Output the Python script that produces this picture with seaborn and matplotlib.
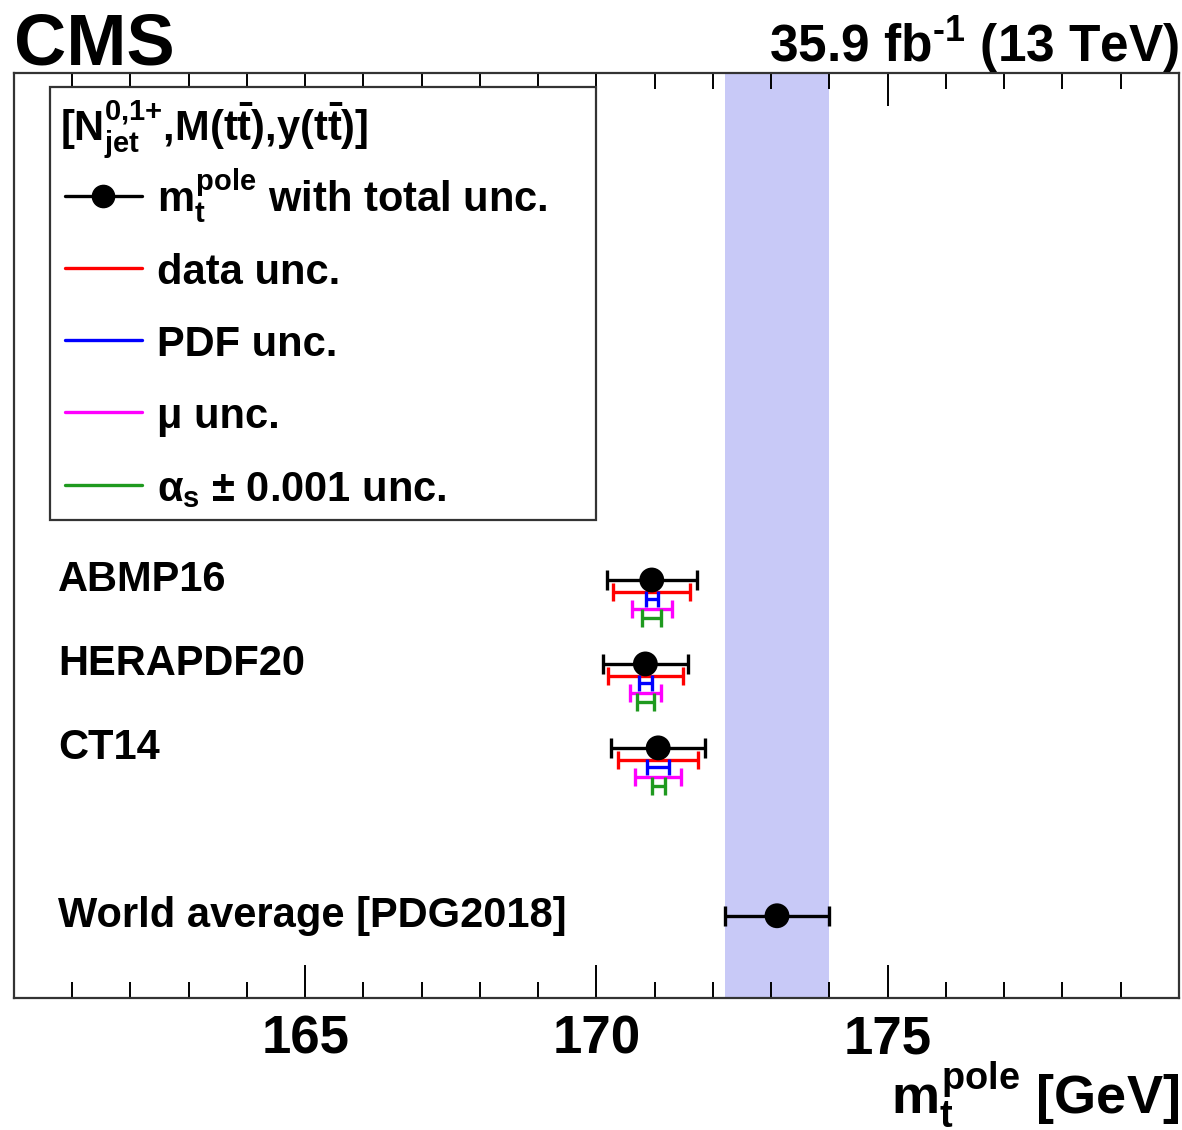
import numpy as np
import pandas as pd
import seaborn as sns
import matplotlib.pyplot as plt
from matplotlib.patches import Rectangle
from matplotlib.ticker import MultipleLocator, FixedLocator

# Extracted values (GeV)
pdf_sets = ['ABMP16', 'HERAPDF20', 'CT14']
mt_pole = [170.95, 170.84, 171.06]
tot_unc = [0.77, 0.73, 0.81]
data_unc = [0.66, 0.65, 0.69]
pdf_unc = [0.10, 0.11, 0.19]
mu_unc = [0.34, 0.27, 0.40]
alphas_unc = [0.16, 0.15, 0.11]

wa_label = 'World average [PDG2018]'
wa_value = 173.1
wa_unc = 0.9

row_pos = [0, 1, 2]
wa_pos = 4

df = pd.DataFrame({'pdf': pdf_sets, 'mt': mt_pole, 'row': row_pos})

sns.set_theme(style="ticks")
plt.rcParams['font.family'] = ['Liberation Sans', 'DejaVu Sans']
plt.rcParams['font.weight'] = 'bold'
plt.rcParams['text.color'] = 'black'
plt.rcParams['axes.labelcolor'] = 'black'
plt.rcParams['xtick.color'] = 'black'
plt.rcParams['mathtext.fontset'] = 'custom'
plt.rcParams['mathtext.rm'] = 'Liberation Sans:bold'
plt.rcParams['mathtext.it'] = 'Liberation Sans:bold'
plt.rcParams['mathtext.bf'] = 'Liberation Sans:bold'
plt.rcParams['mathtext.sf'] = 'Liberation Sans:bold'

fig = plt.figure(figsize=(11.82, 11.3), dpi=100)
ax = fig.add_axes([0.0118, 0.1168, 0.9856, 0.8186])

# world average band
ax.axvspan(wa_value - wa_unc, wa_value + wa_unc, color='#c8c9f7', lw=0, zorder=0)

# uncertainty components
green = '#1f9a1f'
components = [(data_unc, 'red', 0.14, 6.5),
              (pdf_unc, 'blue', 0.23, 5.5),
              (mu_unc, 'magenta', 0.35, 6.8),
              (alphas_unc, green, 0.45, 6.5)]
for unc, col, off, cs in components:
    ax.errorbar(mt_pole, np.array(row_pos) + off, xerr=unc, fmt='none',
                ecolor=col, elinewidth=2.4, capsize=cs, capthick=2.4, zorder=2)

ax.errorbar(mt_pole, row_pos, xerr=tot_unc, fmt='none', ecolor='black',
            elinewidth=2.4, capsize=7.5, capthick=2.4, zorder=3)
ax.errorbar([wa_value], [wa_pos], xerr=[wa_unc], fmt='none', ecolor='black',
            elinewidth=2.4, capsize=7.5, capthick=2.4, zorder=3)

sns.scatterplot(data=df, x='mt', y='row', color='black', s=320,
                edgecolor='none', ax=ax, zorder=4, legend=False)
sns.scatterplot(x=[wa_value], y=[wa_pos], color='black', s=320,
                edgecolor='none', ax=ax, zorder=4, legend=False)

# row labels
for name, r in zip(pdf_sets + [wa_label], row_pos + [wa_pos]):
    ax.text(0.038, r, name, transform=ax.get_yaxis_transform(),
            fontsize=30, fontweight='bold', va='center', ha='left')

ax.set_xlim(160, 180)
ax.set_ylim(4.98, -6.04)
ax.xaxis.set_major_locator(FixedLocator([165, 170, 175]))
ax.xaxis.set_minor_locator(MultipleLocator(1))
ax.set_yticks([])
ax.tick_params(axis='x', which='major', direction='in', top=True, bottom=True,
               length=24, width=1.4, labelsize=38, pad=12)
ax.tick_params(axis='x', which='minor', direction='in', top=True, bottom=True,
               length=11.5, width=1.4)
for t in ax.get_xticklabels():
    t.set_fontweight('bold')
for s in ax.spines.values():
    s.set_linewidth(1.6)
    s.set_color('#333333')

ax.set_ylabel('')
ax.set_xlabel(r'$m_{t}^{pole}$ [GeV]', fontsize=39, fontweight='bold',
              loc='right', labelpad=-4)

ax.text(0.0, 1.009, 'CMS', transform=ax.transAxes, fontsize=52,
        fontweight='bold', ha='left', va='baseline')
ax.text(1.0, 1.012, r'35.9 fb$^{\text{-1}}$ (13 TeV)', transform=ax.transAxes,
        fontsize=37, fontweight='bold', ha='right', va='baseline')


# legend box drawn in axes fractions (pixel layout of the reference)
def fy(py):
    return 1 - (py - 73) / 925.0


def fx(px):
    return (px - 14) / 1165.0


ax.add_patch(Rectangle((fx(50), fy(520)), fx(596) - fx(50), fy(87) - fy(520),
                       transform=ax.transAxes, facecolor='white',
                       edgecolor='#333333', lw=1.6, zorder=5))
ax.text(fx(60), fy(141),
        r'[N$^{\text{0,1+}}_{\text{jet}}$,M($t\bar{t}$),y($t\bar{t}$)]',
        transform=ax.transAxes, fontsize=30, ha='left', va='baseline', zorder=6)

leg_colors = ['black', 'red', 'blue', 'magenta', green]
leg_labels = [r'$m_{t}^{pole}$ with total unc.', 'data unc.', 'PDF unc.',
              'μ unc.', r'$\alpha_{s}$ ± 0.001 unc.']
leg_y = [196, 268, 340, 412, 485]
for col, lab, py in zip(leg_colors, leg_labels, leg_y):
    ax.plot([fx(65), fx(142)], [fy(py), fy(py)], color=col, lw=2.4,
            transform=ax.transAxes, zorder=6)
    if col == 'black':
        ax.plot([fx(103)], [fy(py)], 'o', color='black', markersize=16,
                transform=ax.transAxes, zorder=7)
    ax.text(fx(157), fy(py + 16), lab, transform=ax.transAxes, fontsize=30,
            ha='left', va='baseline', zorder=6)

fig.savefig('out.png', dpi=100)
